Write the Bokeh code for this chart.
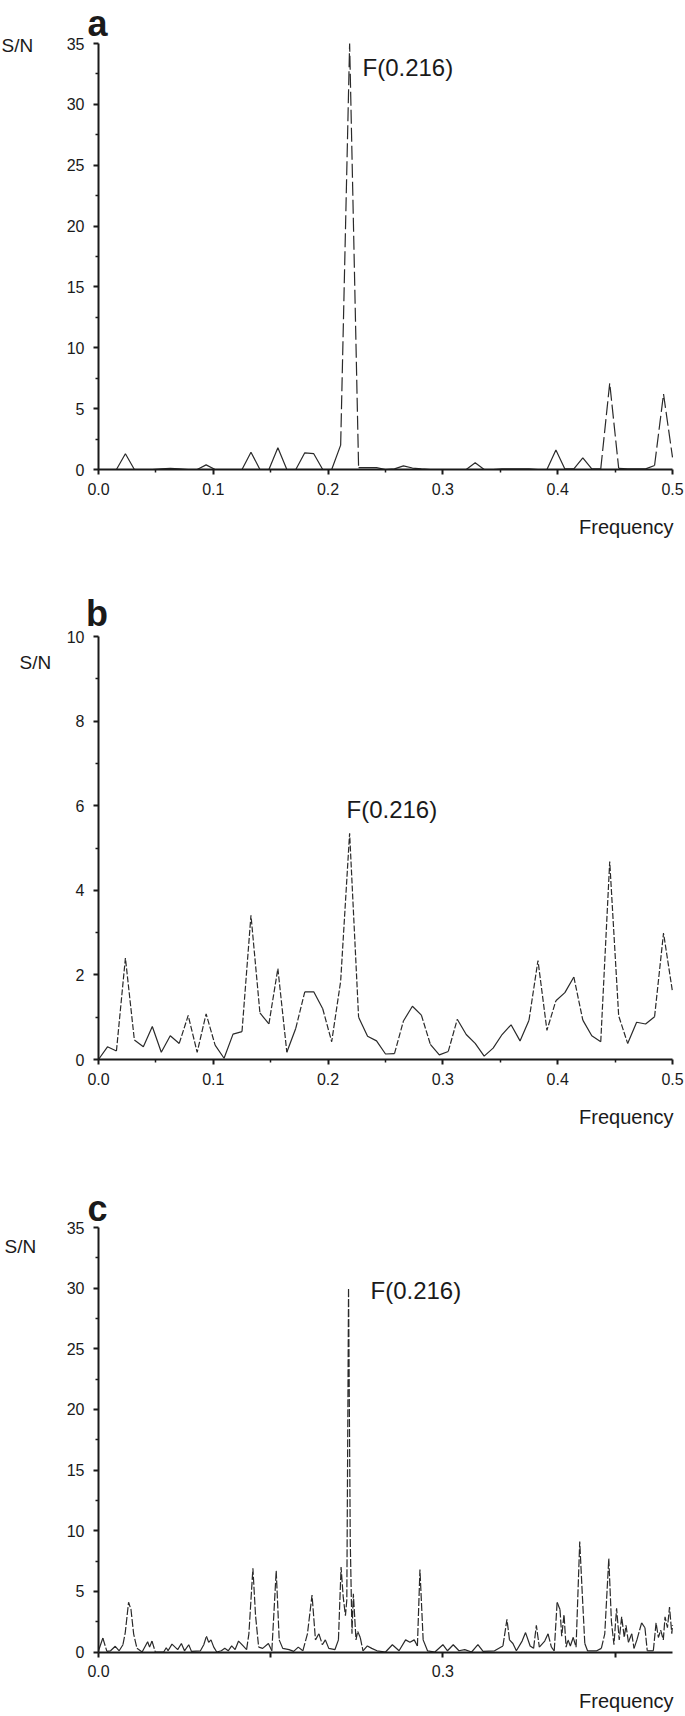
from bokeh.plotting import figure
from bokeh.models import Range1d, FixedTicker, Label, PrintfTickFormatter
from bokeh.layouts import column
from bokeh.embed import file_html
from bokeh.resources import INLINE

# ---------------- data ----------------
# panels a and b: periodogram sampled every 1/128 in frequency
freq_ab = [k / 128 for k in range(65)]

sn_a = [0, 0, 0, 1.3, 0, 0, 0, 0.05, 0.1, 0.05,
        0, 0, 0.38, 0, 0, 0, 0, 1.42, 0, 0,
        1.78, 0, 0, 1.37, 1.3, 0, 0, 2.0, 35.0, 0.15,
        0.15, 0.15, 0.0, 0.05, 0.3, 0.12, 0.05, 0, 0, 0,
        0, 0, 0.55, 0, 0, 0.05, 0.05, 0.05, 0.05, 0,
        0, 1.6, 0.05, 0.05, 0.96, 0.05, 0.05, 7.1, 0.1, 0.05,
        0.05, 0.05, 0.33, 6.2, 1.0]

sn_b = [0.0, 0.3, 0.2, 2.4, 0.46, 0.3, 0.78, 0.17, 0.56, 0.38,
        1.04, 0.17, 1.08, 0.34, 0.03, 0.6, 0.66, 3.41, 1.1, 0.84,
        2.15, 0.17, 0.74, 1.6, 1.6, 1.2, 0.42, 1.85, 5.35, 1.0,
        0.55, 0.44, 0.13, 0.14, 0.91, 1.26, 1.05, 0.36, 0.11, 0.19,
        0.95, 0.59, 0.38, 0.08, 0.27, 0.59, 0.82, 0.44, 0.93, 2.34,
        0.69, 1.39, 1.58, 1.95, 0.93, 0.56, 0.42, 4.68, 1.03, 0.38,
        0.88, 0.84, 1.01, 2.99, 1.6]

# panel c: denser spectrum (vertices)
freq_c = [0.0, 0.0038, 0.0073, 0.0105, 0.0146, 0.018, 0.0213, 0.0233, 0.0262, 0.0283,
          0.0306, 0.0335, 0.038, 0.0428, 0.0445, 0.0466, 0.0495, 0.0568, 0.059, 0.0606,
          0.064, 0.069, 0.0722, 0.0749, 0.0786, 0.081, 0.0888, 0.0917, 0.094, 0.096,
          0.098, 0.1004, 0.103, 0.107, 0.110, 0.113, 0.116, 0.119, 0.122, 0.126,
          0.129, 0.131, 0.1345, 0.1368, 0.1395, 0.143, 0.148, 0.151, 0.1548, 0.1574,
          0.1605, 0.166, 0.170, 0.174, 0.178, 0.182, 0.186, 0.189, 0.192, 0.195,
          0.1976, 0.2006, 0.206, 0.209, 0.2113, 0.2132, 0.2151, 0.2163, 0.2178, 0.2193,
          0.2208, 0.222, 0.2243, 0.2258, 0.228, 0.2304, 0.2342, 0.238, 0.2426, 0.25,
          0.256, 0.2618, 0.2675, 0.2713, 0.275, 0.2778, 0.28, 0.2828, 0.2866, 0.293,
          0.3, 0.304, 0.309, 0.314, 0.319, 0.325, 0.3305, 0.335, 0.345, 0.3523,
          0.3558, 0.358, 0.361, 0.364, 0.369, 0.372, 0.376, 0.379, 0.3814, 0.384,
          0.3887, 0.3916, 0.3945, 0.397, 0.3995, 0.402, 0.4035, 0.4055, 0.4073, 0.409,
          0.411, 0.4135, 0.416, 0.4192, 0.4213, 0.4236, 0.426, 0.434, 0.438, 0.441,
          0.4445, 0.4468, 0.449, 0.4513, 0.4536, 0.4557, 0.458, 0.4595, 0.4616, 0.4645,
          0.4665, 0.469, 0.4731, 0.476, 0.478, 0.4833, 0.4857, 0.4877, 0.4897, 0.492,
          0.4935, 0.4956, 0.4974, 0.4994, 0.5]
sn_c = [0.1, 1.15, 0.05, 0.1, 0.47, 0.1, 0.6, 1.6, 4.1, 3.5,
        1.5, 0.3, 0.0, 0.85, 0.4, 0.9, 0.0, 0.0, 0.35, 0.1,
        0.65, 0.2, 0.7, 0.1, 0.6, 0.05, 0.1, 0.6, 1.3, 0.8,
        1.0, 0.4, 0.0, 0.1, 0.3, 0.1, 0.5, 0.2, 0.9, 0.5,
        0.2, 1.5, 6.9, 3.0, 0.4, 0.3, 0.7, 0.1, 6.7, 1.0,
        0.3, 0.2, 0.05, 0.4, 0.1, 1.5, 4.7, 1.0, 1.5, 0.6,
        1.0, 0.3, 0.2, 1.0, 7.0, 4.5, 3.0, 4.3, 30.0, 9.2,
        1.5, 4.8, 1.0, 1.7, 1.2, 0.1, 0.5, 0.3, 0.1, 0.0,
        0.6, 0.1, 1.0, 0.8, 1.0, 0.5, 6.8, 1.0, 0.1, 0.0,
        0.6, 0.1, 0.6, 0.1, 0.2, 0.0, 0.6, 0.05, 0.1, 0.5,
        2.7, 1.0, 0.7, 0.1, 0.9, 1.6, 0.5, 0.3, 2.2, 0.4,
        0.9, 1.5, 0.4, 0.1, 4.1, 3.5, 1.3, 3.1, 0.4, 1.0,
        0.5, 1.2, 0.4, 9.1, 5.0, 0.7, 0.1, 0.1, 0.3, 1.5,
        7.7, 2.5, 0.6, 3.6, 1.0, 2.9, 1.2, 2.2, 0.8, 1.5,
        0.3, 1.0, 2.4, 2.0, 0.1, 0.1, 2.4, 1.2, 1.8, 1.0,
        2.9, 2.0, 3.7, 1.5, 2.2]

panel_letters = ["a", "b", "c"]
y_label = "S/N"
x_label = "Frequency"
peak_label = "F(0.216)"

# ---------------- layout / styling ----------------
FONT = "Liberation Sans"
INK = "#1a1a1a"
LINE = "#2a2a2a"
W = 685                 # canvas width (page has no margin)
X0, X1 = 98, 672        # canvas x of frequency 0 and 0.5
PPU_X = (X1 - X0) / 0.5
PAGE_X = 0              # page offset of the canvas


def split_segments(xs, ys, px_x, px_y, thresh=3.0):
    """Group consecutive segments into steep (drawn dashed) and shallow (solid) polylines."""
    steep_x, steep_y, flat_x, flat_y = [], [], [], []
    cur_t, cx, cy = None, [], []
    for i in range(len(xs) - 1):
        dx = abs(xs[i + 1] - xs[i]) * px_x
        dy = abs(ys[i + 1] - ys[i]) * px_y
        t = dy > thresh * dx
        if t != cur_t:
            if cx:
                (steep_x if cur_t else flat_x).append(cx)
                (steep_y if cur_t else flat_y).append(cy)
            cur_t, cx, cy = t, [xs[i]], [ys[i]]
        cx.append(xs[i + 1])
        cy.append(ys[i + 1])
    if cx:
        (steep_x if cur_t else flat_x).append(cx)
        (steep_y if cur_t else flat_y).append(cy)
    return steep_x, steep_y, flat_x, flat_y


class Panel:
    def __init__(self, page_top, height, y_top, y_zero, ymax, yticks, yminor,
                 xticks, xminor, xoverrides, xs, ys, dash):
        self.page_top = page_top
        self.height = height
        self.y_zero = y_zero
        self.ppu_y = (y_zero - y_top) / ymax
        y_end = ymax + y_top / self.ppu_y
        y_start = -(height - y_zero) / self.ppu_y
        x_start = -X0 / PPU_X
        x_end = 0.5 + (W - X1) / PPU_X

        p = figure(width=W, height=height,
                   x_range=Range1d(x_start, x_end), y_range=Range1d(y_start, y_end),
                   output_backend="svg", toolbar_location=None, min_border=0)
        p.xgrid.visible = False
        p.ygrid.visible = False
        p.outline_line_color = None
        p.background_fill_color = "white"
        p.border_fill_color = "white"

        sx, sy, fx, fy = split_segments(xs, ys, PPU_X, self.ppu_y)
        if fx:
            p.multi_line(fx, fy, line_color=LINE, line_width=1.2)
        if sx:
            p.multi_line(sx, sy, line_color=LINE, line_width=1.2, line_dash=dash)

        for ax in (p.xaxis[0], p.yaxis[0]):
            ax.fixed_location = 0
            ax.axis_line_width = 2
            ax.axis_line_color = INK
            ax.major_tick_line_width = 2
            ax.major_tick_line_color = INK
            ax.major_tick_out = 5
            ax.major_tick_in = 0
            ax.minor_tick_line_width = 1.5
            ax.minor_tick_line_color = INK
            ax.minor_tick_out = 3
            ax.minor_tick_in = 0
            ax.major_label_text_font = FONT
            ax.major_label_text_font_size = "16px"
            ax.major_label_text_color = INK

        p.xaxis.bounds = (0, 0.5)
        p.xaxis.ticker = FixedTicker(ticks=xticks, minor_ticks=xminor)
        p.xaxis.formatter = PrintfTickFormatter(format="%.1f")
        p.xaxis.major_label_standoff = 8
        if xoverrides:
            p.xaxis.major_label_overrides = xoverrides
        p.yaxis.bounds = (0, ymax)
        p.yaxis.ticker = FixedTicker(ticks=yticks, minor_ticks=yminor)
        p.yaxis.formatter = PrintfTickFormatter(format="%d")
        p.yaxis.major_label_standoff = 9
        self.p = p

    # page pixel -> data coordinate
    def dx(self, page_x):
        return (page_x - PAGE_X - X0) / PPU_X

    def dy(self, page_y):
        return (self.y_zero - (page_y - self.page_top)) / self.ppu_y

    def text(self, txt, page_x, page_y, size, align="left", bold=False):
        self.p.add_layout(Label(x=self.dx(page_x), y=self.dy(page_y), text=txt,
                                text_font=FONT, text_font_size=size,
                                text_font_style="bold" if bold else "normal",
                                text_color=INK, text_baseline="alphabetic",
                                text_align=align))


ticks_01 = [0.0, 0.1, 0.2, 0.3, 0.4, 0.5]
minor_01 = [0.05, 0.15, 0.25, 0.35, 0.45]
ticks_35 = [0, 5, 10, 15, 20, 25, 30, 35]
minor_35 = [2.5, 7.5, 12.5, 17.5, 22.5, 27.5, 32.5]

# panel a  (page y 0 .. 560)
A = Panel(0, 560, 43, 469, 35, ticks_35, minor_35, ticks_01, minor_01, None,
          freq_ab, sn_a, "14 4")
A.text(panel_letters[0], 87, 23, "36px", bold=True)
A.text(y_label, 1, 45, "19px")
A.text(peak_label, 362, 66.5, "24px")
A.text(x_label, 673, 526, "20px", align="right")

# panel b  (page y 560 .. 1150)
B = Panel(560, 590, 76, 499, 10, [0, 2, 4, 6, 8, 10], [1, 3, 5, 7, 9],
          ticks_01, minor_01, None, freq_ab, sn_b, "6 2")
B.text(panel_letters[1], 85.5, 613, "36px", bold=True)
B.text(y_label, 19, 662, "19px")
B.text(peak_label, 346, 809, "24px")
B.text(x_label, 673, 1116, "20px", align="right")

# panel c  (page y 1150 .. 1716)
C = Panel(1150, 566, 77, 501.5, 35, ticks_35, minor_35,
          [0.0, 0.15, 0.3, 0.45], [], {0.15: "", 0.45: ""},
          freq_c, sn_c, "8 2")
C.text(panel_letters[2], 87, 1208, "36px", bold=True)
C.text(y_label, 4, 1246, "19px")
C.text(peak_label, 370, 1290, "24px")
C.text(x_label, 673, 1700, "20px", align="right")

layout = column(A.p, B.p, C.p)
open("out.html", "w").write(file_html(layout, INLINE))
